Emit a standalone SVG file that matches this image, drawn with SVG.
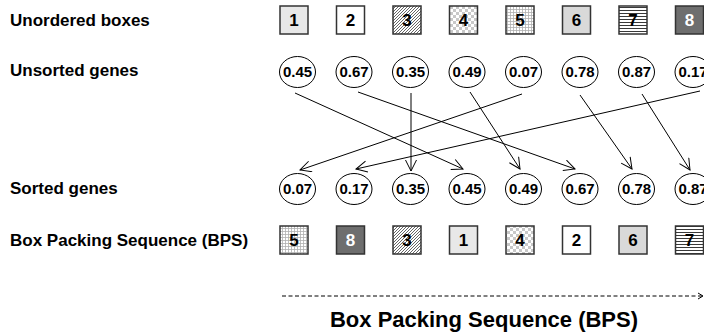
<svg xmlns="http://www.w3.org/2000/svg" width="704" height="333" viewBox="0 0 704 333">
<style>
.lbl{font-family:"Liberation Sans",Arial,sans-serif;font-weight:bold;font-size:17px;fill:#000}
.big{font-family:"Liberation Sans",Arial,sans-serif;font-weight:bold;font-size:22px;fill:#000}
.bx{stroke:#333;stroke-width:1.5}
.bt{font-family:"Liberation Sans",Arial,sans-serif;font-weight:bold;font-size:17px;text-anchor:middle;fill:#000}
.gc{fill:#fff;stroke:#000;stroke-width:1}
.gt{font-family:"Liberation Sans",Arial,sans-serif;font-weight:bold;font-size:15px;text-anchor:middle;fill:#000}
.cn{stroke:#000;stroke-width:1;fill:none;marker-end:url(#ah)}
</style>
<defs>
<marker id="ah" markerWidth="14" markerHeight="14" refX="12" refY="6" orient="auto" markerUnits="userSpaceOnUse">
<path d="M1,0.5 L12,6 L1,11.5" fill="none" stroke="#000" stroke-width="1"/>
</marker>
<marker id="ah2" markerWidth="10" markerHeight="10" refX="6" refY="4" orient="auto" markerUnits="userSpaceOnUse">
<path d="M1,1 L6,4 L1,7" fill="none" stroke="#000" stroke-width="1"/>
</marker>
<pattern id="p3" width="3" height="3" patternUnits="userSpaceOnUse">
<rect width="3" height="3" fill="#fff"/>
<path d="M-1,1 L1,-1 M0,3 L3,0 M2,4 L4,2" stroke="#222" stroke-width="0.7"/>
</pattern>
<pattern id="p4" width="6" height="6" patternUnits="userSpaceOnUse">
<rect width="6" height="6" fill="#fff"/>
<rect width="3" height="3" fill="#c8c8c8"/>
<rect x="3" y="3" width="3" height="3" fill="#c8c8c8"/>
</pattern>
<pattern id="p5" width="3" height="3" patternUnits="userSpaceOnUse">
<rect width="3" height="3" fill="#fff"/>
<path d="M0,0.5 H3 M0.5,0 V3" stroke="#b0b0b0" stroke-width="0.8"/>
</pattern>
<pattern id="p7" width="4" height="3" patternUnits="userSpaceOnUse">
<rect width="4" height="3" fill="#fff"/>
<path d="M0,1.5 H4" stroke="#222" stroke-width="0.9"/>
</pattern>
</defs>
<rect width="704" height="333" fill="#fff"/>
<g id="labels">
<text class="lbl" x="10" y="26">Unordered boxes</text>
<text class="lbl" x="10" y="76">Unsorted genes</text>
<text class="lbl" x="10" y="194">Sorted genes</text>
<text class="lbl" x="10" y="246">Box Packing Sequence (BPS)</text>
</g>
<g id="unordered-boxes">
<g id="ub1"><rect class="bx" x="280" y="6" width="28" height="28" fill="#e8e8e8"/><text class="bt" x="294" y="26">1</text></g>
<g id="ub2"><rect class="bx" x="336.5" y="6" width="28" height="28" fill="#fff"/><text class="bt" x="350.5" y="26">2</text></g>
<g id="ub3"><rect class="bx" x="393" y="6" width="28" height="28" fill="url(#p3)"/><text class="bt" x="407" y="26">3</text></g>
<g id="ub4"><rect class="bx" x="449.5" y="6" width="28" height="28" fill="url(#p4)"/><text class="bt" x="463.5" y="26">4</text></g>
<g id="ub5"><rect class="bx" x="506" y="6" width="28" height="28" fill="url(#p5)"/><text class="bt" x="520" y="26">5</text></g>
<g id="ub6"><rect class="bx" x="562.5" y="6" width="28" height="28" fill="#d9d9d9"/><text class="bt" x="576.5" y="26">6</text></g>
<g id="ub7"><rect class="bx" x="619" y="6" width="28" height="28" fill="url(#p7)"/><text class="bt" x="633" y="26">7</text></g>
<g id="ub8"><rect class="bx" x="675.5" y="6" width="28" height="28" fill="#6e6e6e"/><text class="bt" x="689.5" y="26" style="fill:#fff">8</text></g>
</g>
<g id="unsorted-genes">
<g id="ug1"><ellipse class="gc" cx="297.5" cy="72" rx="18" ry="15.5"/><text class="gt" x="297.5" y="77.3">0.45</text></g>
<g id="ug2"><ellipse class="gc" cx="354" cy="72" rx="18" ry="15.5"/><text class="gt" x="354" y="77.3">0.67</text></g>
<g id="ug3"><ellipse class="gc" cx="410.5" cy="72" rx="18" ry="15.5"/><text class="gt" x="410.5" y="77.3">0.35</text></g>
<g id="ug4"><ellipse class="gc" cx="467" cy="72" rx="18" ry="15.5"/><text class="gt" x="467" y="77.3">0.49</text></g>
<g id="ug5"><ellipse class="gc" cx="523.5" cy="72" rx="18" ry="15.5"/><text class="gt" x="523.5" y="77.3">0.07</text></g>
<g id="ug6"><ellipse class="gc" cx="580" cy="72" rx="18" ry="15.5"/><text class="gt" x="580" y="77.3">0.78</text></g>
<g id="ug7"><ellipse class="gc" cx="636.5" cy="72" rx="18" ry="15.5"/><text class="gt" x="636.5" y="77.3">0.87</text></g>
<g id="ug8"><ellipse class="gc" cx="693" cy="72" rx="18" ry="15.5"/><text class="gt" x="693" y="77.3">0.17</text></g>
</g>
<g id="connectors">
<line class="cn" x1="295" y1="93" x2="463" y2="169"/>
<line class="cn" x1="358" y1="92" x2="575" y2="169"/>
<line class="cn" x1="411" y1="93" x2="411" y2="171"/>
<line class="cn" x1="470" y1="92" x2="520" y2="169"/>
<line class="cn" x1="522" y1="94" x2="300" y2="170"/>
<line class="cn" x1="580" y1="95" x2="632" y2="169"/>
<line class="cn" x1="642" y1="94" x2="690" y2="170"/>
<line class="cn" x1="700" y1="91" x2="356" y2="169"/>
<line x1="282" y1="296" x2="703" y2="296" stroke="#000" stroke-width="1" stroke-dasharray="4,2.5" marker-end="url(#ah2)"/>
</g>
<g id="sorted-genes">
<g id="sg1"><ellipse class="gc" cx="297.5" cy="189" rx="18" ry="15.5"/><text class="gt" x="297.5" y="194.3">0.07</text></g>
<g id="sg2"><ellipse class="gc" cx="354" cy="189" rx="18" ry="15.5"/><text class="gt" x="354" y="194.3">0.17</text></g>
<g id="sg3"><ellipse class="gc" cx="410.5" cy="189" rx="18" ry="15.5"/><text class="gt" x="410.5" y="194.3">0.35</text></g>
<g id="sg4"><ellipse class="gc" cx="467" cy="189" rx="18" ry="15.5"/><text class="gt" x="467" y="194.3">0.45</text></g>
<g id="sg5"><ellipse class="gc" cx="523.5" cy="189" rx="18" ry="15.5"/><text class="gt" x="523.5" y="194.3">0.49</text></g>
<g id="sg6"><ellipse class="gc" cx="580" cy="189" rx="18" ry="15.5"/><text class="gt" x="580" y="194.3">0.67</text></g>
<g id="sg7"><ellipse class="gc" cx="636.5" cy="189" rx="18" ry="15.5"/><text class="gt" x="636.5" y="194.3">0.78</text></g>
<g id="sg8"><ellipse class="gc" cx="693" cy="189" rx="18" ry="15.5"/><text class="gt" x="693" y="194.3">0.87</text></g>
</g>
<g id="bps-boxes">
<g id="bb1"><rect class="bx" x="280" y="226" width="28" height="28" fill="url(#p5)"/><text class="bt" x="294" y="246">5</text></g>
<g id="bb2"><rect class="bx" x="336.5" y="226" width="28" height="28" fill="#6e6e6e"/><text class="bt" x="350.5" y="246" style="fill:#fff">8</text></g>
<g id="bb3"><rect class="bx" x="393" y="226" width="28" height="28" fill="url(#p3)"/><text class="bt" x="407" y="246">3</text></g>
<g id="bb4"><rect class="bx" x="449.5" y="226" width="28" height="28" fill="#e8e8e8"/><text class="bt" x="463.5" y="246">1</text></g>
<g id="bb5"><rect class="bx" x="506" y="226" width="28" height="28" fill="url(#p4)"/><text class="bt" x="520" y="246">4</text></g>
<g id="bb6"><rect class="bx" x="562.5" y="226" width="28" height="28" fill="#fff"/><text class="bt" x="576.5" y="246">2</text></g>
<g id="bb7"><rect class="bx" x="619" y="226" width="28" height="28" fill="#d9d9d9"/><text class="bt" x="633" y="246">6</text></g>
<g id="bb8"><rect class="bx" x="675.5" y="226" width="28" height="28" fill="url(#p7)"/><text class="bt" x="689.5" y="246">7</text></g>
</g>
<text class="big" x="484" y="327" text-anchor="middle">Box Packing Sequence (BPS)</text>
</svg>
